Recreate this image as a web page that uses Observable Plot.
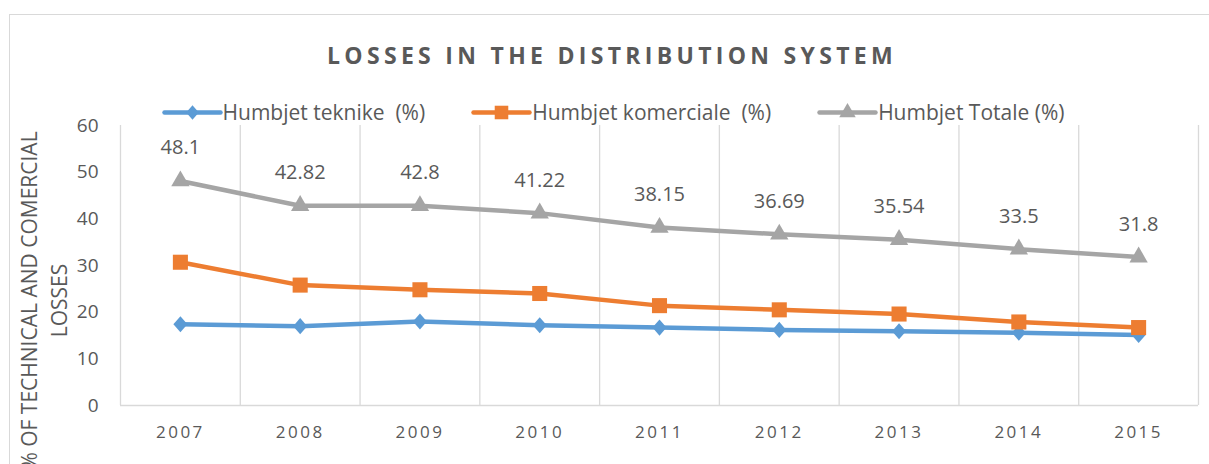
<!DOCTYPE html>
<html>
<head>
<meta charset="utf-8">
<script src="https://cdn.jsdelivr.net/npm/d3@7"></script>
<script src="https://cdn.jsdelivr.net/npm/@observablehq/plot@0.6"></script>
<style>
  body { margin: 0; background: #fff; font-family: "Open Sans", sans-serif; }
  #wrap { position: relative; width: 1209px; height: 464px; overflow: hidden; background: #fff; }
  #frame { position: absolute; left: 9px; top: 14px; width: 1220px; height: 480px; border: 1px solid #d9d9d9; box-sizing: border-box; }
  #head { position: absolute; left: 0; top: 0; width: 1209px; height: 118px; }
  #title { position: absolute; left: 9px; width: 1206px; top: 39px; text-align: center; font-weight: 700; font-size: 23px; letter-spacing: 4.3px; color: #595959; white-space: nowrap; }
  #legend { position: absolute; left: 11px; width: 1206px; top: 98px; display: flex; justify-content: center; gap: 48px; font-size: 21px; color: #595959; white-space: pre; line-height: 28px; }
  .item { display: flex; align-items: center; gap: 3px; }
  #chart { position: absolute; left: 0; top: 118px; }
  #chart g[aria-label="x-axis tick label"] text { letter-spacing: 2.5px; }
</style>
</head>
<body>
<div id="wrap">
  <div id="frame"></div>
  <div id="head">
    <div id="title"></div>
    <div id="legend"></div>
  </div>
  <div id="chart"></div>
</div>
<script>
// ---- data ----
const title = "LOSSES IN THE DISTRIBUTION SYSTEM";
const years = [2007, 2008, 2009, 2010, 2011, 2012, 2013, 2014, 2015];
const technical = [17.4, 17.0, 18.0, 17.2, 16.7, 16.2, 15.9, 15.6, 15.1];
const commercial = [30.7, 25.8, 24.8, 24.0, 21.4, 20.5, 19.6, 17.9, 16.7];
const total = [48.1, 42.82, 42.8, 41.22, 38.15, 36.69, 35.54, 33.5, 31.8];
const seriesNames = ["Humbjet teknike  (%)", "Humbjet komerciale  (%)", "Humbjet Totale (%)"];
const seriesColors = ["#5B9BD5", "#ED7D31", "#A5A5A5"];
const yTicks = [0, 10, 20, 30, 40, 50, 60];
const yLabelLines = ["% OF TECHNICAL AND COMERCIAL", "LOSSES"];

// ---- symbols ----
const diamondSym = {
  draw(ctx, size) {
    const w = Math.sqrt(size / 2.3), h = w * 1.15;
    ctx.moveTo(0, -h); ctx.lineTo(w, 0); ctx.lineTo(0, h); ctx.lineTo(-w, 0); ctx.closePath();
  }
};
const seriesSymbols = [diamondSym, "square", "triangle"];
const seriesR = [6, 8.5, 6.8];

const seriesValues = [technical, commercial, total];
const rows = seriesValues.map((vals, s) => years.map((yr, i) => ({ year: yr, value: vals[i], s })));
const totalRows = rows[2];

// ---- title & legend (HTML) ----
document.getElementById("title").textContent = title;
const legend = document.getElementById("legend");
seriesNames.forEach((name, s) => {
  const item = document.createElement("div");
  item.className = "item";
  const sw = Plot.plot({
    width: 56, height: 24, margin: 0,
    x: { domain: [0, 1], axis: null }, y: { domain: [0, 1], axis: null },
    style: { background: "transparent", overflow: "visible" },
    marks: [
      Plot.lineY([0.5, 0.5], { x: [0, 1], y: d => d, stroke: seriesColors[s], strokeWidth: 4.5 }),
      Plot.dot([0.5], { x: [0.5], y: [0.5], symbol: seriesSymbols[s], r: seriesR[s] * 0.9, fill: seriesColors[s], stroke: "none" })
    ]
  });
  item.appendChild(sw);
  const t = document.createElement("span");
  t.textContent = name;
  item.appendChild(t);
  legend.appendChild(item);
});

// ---- chart ----
const x0 = years[0] - 0.5, x1 = years[years.length - 1] + 0.5;
const bounds = years.map(y => y - 0.5).concat([x1]);

const marks = [
  Plot.ruleX(bounds, { x: d => d, y1: 0, y2: 60, stroke: "#d9d9d9", strokeWidth: 1.3 }),
  Plot.ruleY([0], { stroke: "#d9d9d9", strokeWidth: 1.5 }),
  Plot.axisY({ ticks: yTicks, tickSize: 0, tickPadding: 22, fontSize: 19, label: null, tickFormat: d => String(d) }),
  Plot.axisX({ ticks: years, tickSize: 0, tickPadding: 20, fontSize: 17, label: null, tickFormat: d => String(d) }),
  Plot.text([yLabelLines.join("\n")], {
    frameAnchor: "left", rotate: -90, dx: -78.5, dy: 35, fontSize: 21, lineHeight: 1.43,
    fill: "#595959", textAnchor: "middle"
  })
];
rows.forEach((r, s) => {
  marks.push(Plot.line(r, { x: "year", y: "value", stroke: seriesColors[s], strokeWidth: 4.5 }));
  marks.push(Plot.dot(r, { x: "year", y: "value", symbol: seriesSymbols[s], r: seriesR[s], fill: seriesColors[s], stroke: "none" }));
});
marks.push(Plot.text(totalRows, { x: "year", y: "value", text: d => String(d.value), dy: -33, fontSize: 20, fill: "#595959" }));

const chart = Plot.plot({
  width: 1209,
  height: 346,
  marginTop: 7,
  marginBottom: 59,
  marginLeft: 120,
  marginRight: 11,
  x: { type: "linear", domain: [x0, x1], axis: null },
  y: { domain: [0, 60], axis: null },
  style: { background: "transparent", color: "#595959", fontFamily: "Open Sans, sans-serif", overflow: "visible" },
  marks
});
document.getElementById("chart").appendChild(chart);
</script>
</body>
</html>
